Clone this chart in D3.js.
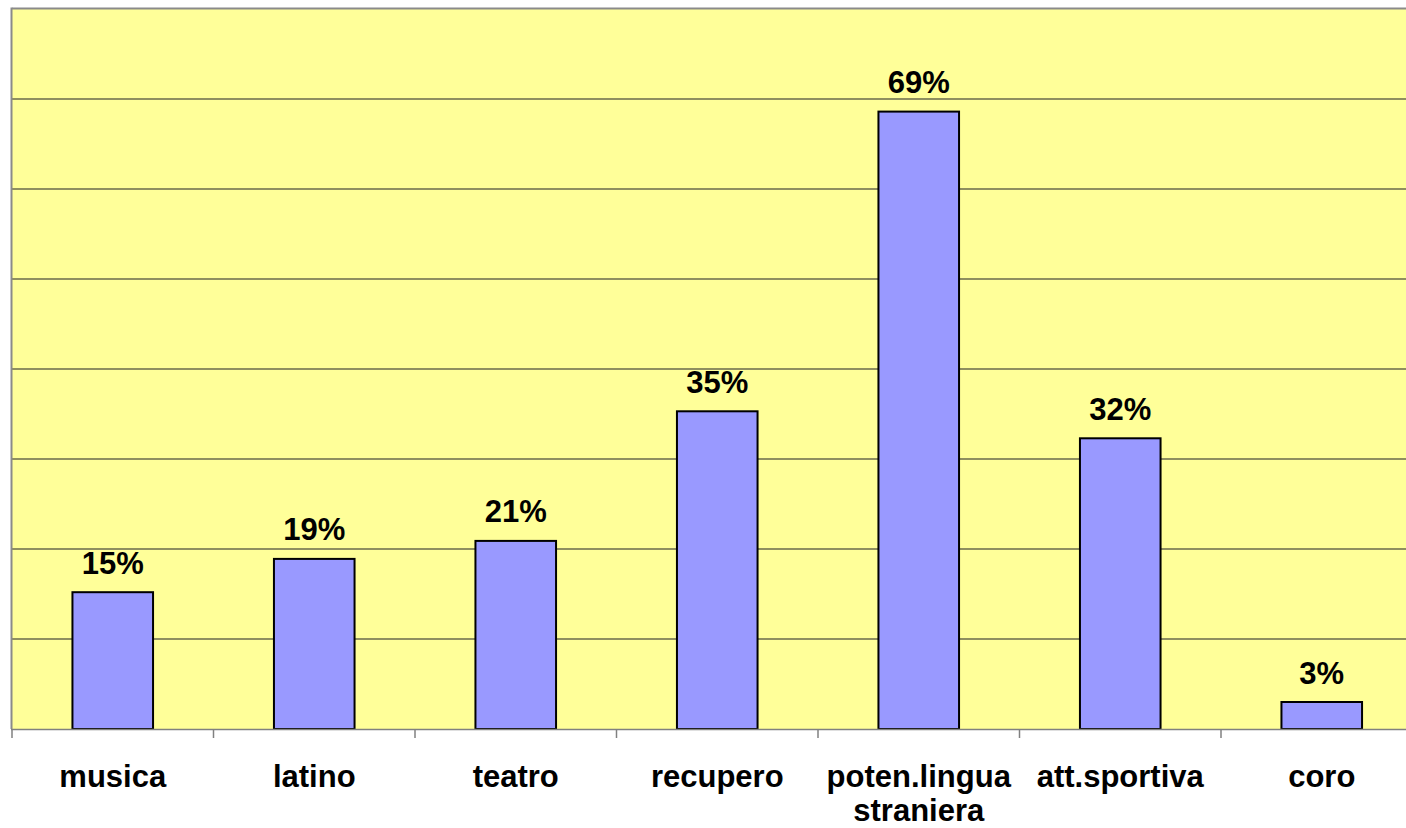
<!DOCTYPE html>
<html>
<head>
<meta charset="utf-8">
<script src="https://cdn.jsdelivr.net/npm/d3@7"></script>
<style>
  html, body { margin: 0; padding: 0; background: #ffffff; overflow: hidden; }
  svg { display: block; }
</style>
</head>
<body>
<svg id="chart" width="1406" height="828"></svg>
<script>
const categories = ["musica", "latino", "teatro", "recupero", "poten.lingua\nstraniera", "att.sportiva", "coro"];
const values = [0.152, 0.189, 0.209, 0.353, 0.686, 0.323, 0.030];
const gridTicks = [0.1, 0.2, 0.3, 0.4, 0.5, 0.6, 0.7];

(function () {
const svg = d3.select("#chart");
const plotLeft = 12, plotBottom = 729, plotTop = 9;
const stepW = 201.5;
const plotRight = plotLeft + stepW * categories.length;

const x = d3.scaleBand().domain(categories).range([plotLeft, plotRight]).paddingInner(0.6).paddingOuter(0.3);
const y = d3.scaleLinear().domain([0, 0.8]).range([plotBottom, plotTop]);

// plot background
svg.append("rect").attr("x", plotLeft).attr("y", plotTop).attr("width", plotRight - plotLeft).attr("height", plotBottom - plotTop)
  .attr("fill", "#FFFF99");

// gridlines
svg.append("g").selectAll("line").data(gridTicks).join("line")
  .attr("x1", plotLeft).attr("x2", plotRight)
  .attr("y1", d => y(d)).attr("y2", d => y(d))
  .attr("stroke", "#6a6a4c").attr("stroke-width", 1.5);

// top and left border
svg.append("line").attr("x1", plotLeft).attr("x2", plotRight).attr("y1", plotTop - 0.5).attr("y2", plotTop - 0.5)
  .attr("stroke", "#8a8a8a").attr("stroke-width", 2);
svg.append("line").attr("x1", plotLeft - 0.5).attr("x2", plotLeft - 0.5).attr("y1", plotTop - 1.5).attr("y2", plotBottom)
  .attr("stroke", "#8a8a8a").attr("stroke-width", 2);

// bars
svg.append("g").selectAll("rect").data(values).join("rect")
  .attr("x", (d, i) => x(categories[i]))
  .attr("y", d => y(d))
  .attr("width", x.bandwidth())
  .attr("height", d => plotBottom - y(d))
  .attr("fill", "#9999FF").attr("stroke", "#000").attr("stroke-width", 2);

// x axis line and ticks
svg.append("line").attr("x1", plotLeft - 1).attr("x2", plotRight).attr("y1", plotBottom + 0.5).attr("y2", plotBottom + 0.5)
  .attr("stroke", "#808080").attr("stroke-width", 1.5);
const tickPos = d3.range(categories.length + 1).map(i => plotLeft + i * x.step());
svg.append("g").selectAll("line").data(tickPos).join("line")
  .attr("x1", d => d).attr("x2", d => d).attr("y1", plotBottom).attr("y2", plotBottom + 9)
  .attr("stroke", "#808080").attr("stroke-width", 1.5);

// value labels
svg.append("g").selectAll("text").data(values).join("text")
  .attr("x", (d, i) => x(categories[i]) + x.bandwidth() / 2)
  .attr("y", d => y(d) - 18.5)
  .attr("text-anchor", "middle")
  .attr("font-family", "Liberation Sans, Arial, sans-serif")
  .attr("font-weight", "bold").attr("font-size", 31)
  .text(d => Math.round(d * 100) + "%");

// category labels
const cl = svg.append("g").selectAll("text").data(categories).join("text")
  .attr("x", d => x(d) + x.bandwidth() / 2)
  .attr("y", 787)
  .attr("text-anchor", "middle")
  .attr("font-family", "Liberation Sans, Arial, sans-serif")
  .attr("font-weight", "bold").attr("font-size", 31);
cl.each(function (d) {
  const lines = d.split("\n");
  const t = d3.select(this);
  lines.forEach((ln, k) => {
    t.append("tspan").attr("x", x(d) + x.bandwidth() / 2).attr("dy", k === 0 ? 0 : 34).text(ln);
  });
});
})();
</script>
</body>
</html>
